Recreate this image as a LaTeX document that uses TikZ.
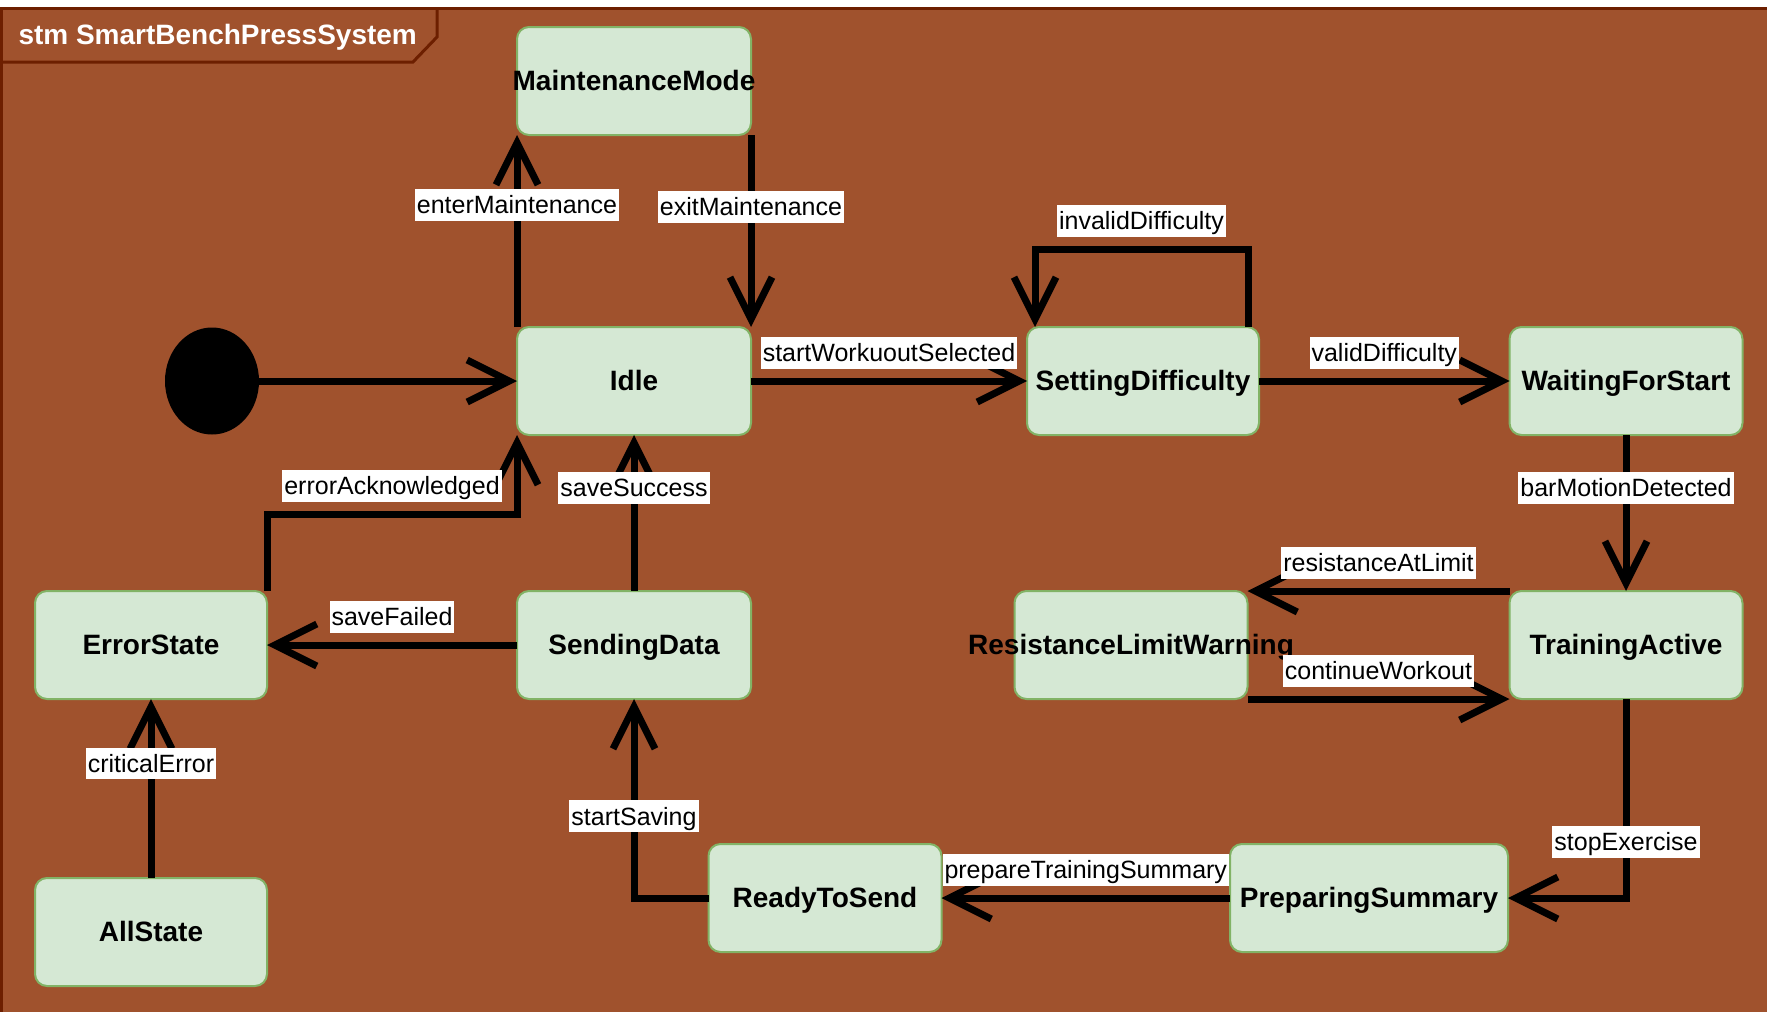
\documentclass[tikz,border=0pt]{standalone}
\usepackage{fontspec}
\setmainfont{Liberation Sans}
\usetikzlibrary{arrows.meta,shapes}
\definecolor{frameBg}{HTML}{A0522D}
\definecolor{frameLine}{HTML}{6D1F00}
\definecolor{stateFill}{HTML}{D5E8D4}
\definecolor{stateLine}{HTML}{82B366}
\tikzstyle{sbox}=[rectangle,rounded corners=12pt,draw=stateLine,fill=stateFill,line width=2pt,minimum height=108pt,inner sep=0pt,outer sep=0pt,text height=25.3pt,text depth=5.9pt,font=\fontsize{28}{34}\selectfont\bfseries]
\tikzstyle{startdot}=[ellipse,fill=black,minimum width=94pt,minimum height=107pt,inner sep=0pt,outer sep=0pt]
\tikzstyle{arr} = [draw,line width=7pt,-{Straight Barb[length=42pt,width=42pt,sharp]}]
\tikzstyle{trig} = [fill=white,inner xsep=2pt,inner ysep=2pt,text height=22.6pt,text depth=5.3pt,font=\fontsize{25}{30}\selectfont]
\tikzstyle{lblup} = [above=9pt]

\begin{document}
\begin{tikzpicture}[x=1pt,y=-1pt]
    \useasboundingbox (0,0) rectangle (1767,1012);
    \fill[white] (0,0) rectangle (1767,1012);
    \fill[frameBg] (0,7) rectangle (1767,1012);
    \draw[frameLine,line width=3pt] (1.5,1012) -- (1.5,8.5) -- (1767,8.5);
    \draw[frameLine,line width=3pt] (1.5,62) -- (413,62) -- (437,37) -- (437,8.5);
    \node[anchor=west,text=white,font=\fontsize{28}{34}\selectfont\bfseries] (title) at (15,37) {stm SmartBenchPressSystem};

    \node[startdot] (init) at (212,381) {};
    \foreach \pos/\name/\val/\w in {{(634,81)/MM/MaintenanceMode/234},
    {(634,381)/Idle/Idle/234},{(1143,381)/SD/SettingDifficulty/232},
    {(1626,381)/WFS/WaitingForStart/233},{(1626,645)/TA/TrainingActive/233},
    {(1131,645)/RLW/ResistanceLimitWarning/233},{(151,645)/ES/ErrorState/232},
    {(634,645)/SDa/SendingData/234},{(151,932)/AS/AllState/232},
    {(825,898)/RTS/ReadyToSend/233},{(1369,898)/PS/PreparingSummary/278}}
        \node[sbox,minimum width=\w pt] (\name) at \pos {\makebox[0pt]{\val}};

    \path[arr] (init) -- (Idle);
    \foreach \src/\dst/\txt/\p/\side in {
    Idle.north west/MM.south west/enterMaintenance/0.635/,
    MM.south east/Idle.north east/exitMaintenance/0.375/,
    Idle/SD/startWorkuoutSelected/0.5/lblup,
    SD/WFS/validDifficulty/0.5/lblup,
    WFS/TA/barMotionDetected/0.34/,
    TA.north west/RLW.north east/resistanceAtLimit/0.5/lblup,
    RLW.south east/TA.south west/continueWorkout/0.5/lblup,
    PS/RTS/prepareTrainingSummary/0.5/lblup,
    SDa/Idle/saveSuccess/0.66/,
    SDa/ES/saveFailed/0.5/lblup,
    AS/ES/criticalError/0.64/}
        \path[arr] (\src) -- node[trig,pos=\p,\side] {\txt} (\dst);

    \path[arr] ([xshift=-11pt]SD.north east) -- ++(0,-78) -| node[trig,pos=0.25,lblup] {invalidDifficulty} ([xshift=8pt]SD.north west);
    \path[arr] (TA.south) |- node[trig,pos=0.36] {stopExercise} (PS.east);
    \path[arr] (RTS.west) -| node[trig,pos=0.705] {startSaving} (SDa.south);
    \path[arr] (ES.north east) -- ++(0,-77) -| node[trig,pos=0.25,lblup] {errorAcknowledged} (Idle.south west);
\end{tikzpicture}
\end{document}
